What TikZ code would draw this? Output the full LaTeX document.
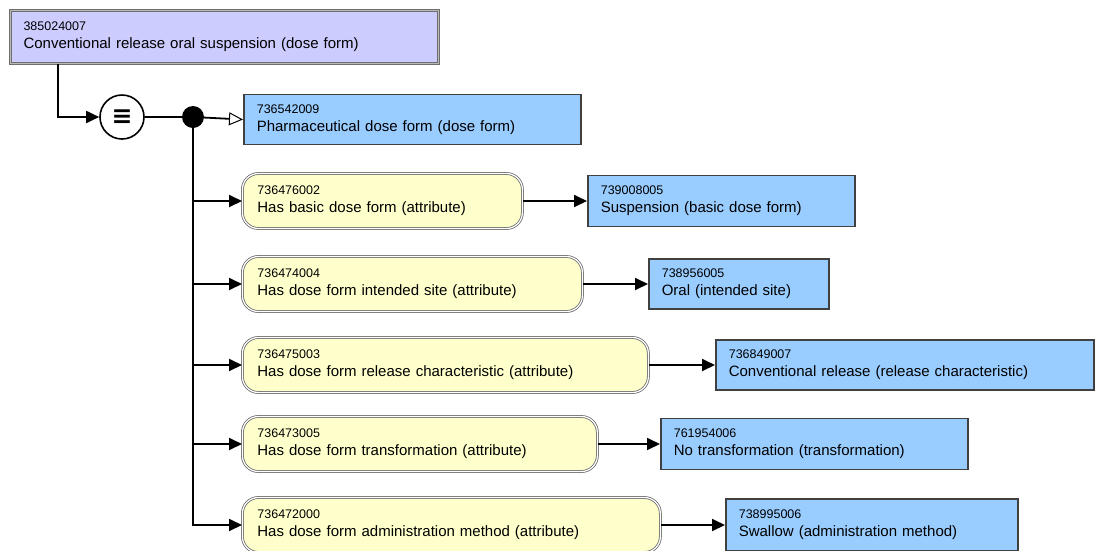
\documentclass[tikz,border=0pt]{standalone}
\usepackage{fontspec}
\setmainfont{Liberation Sans}
\newfontfamily\symfont{DejaVu Sans}
\usetikzlibrary{arrows.meta,positioning}

\definecolor{defcol}{RGB}{204,204,255}
\definecolor{attrcol}{RGB}{255,255,204}
\definecolor{valcol}{RGB}{153,204,255}
\definecolor{edgegray}{RGB}{110,110,110}
\newcommand\sctid[1]{{\fontsize{12.5}{14}\selectfont #1}}

\begin{document}
\begin{tikzpicture}[x=1pt,y=-1pt,
  txt/.style={align=left,anchor=west,inner xsep=13pt,inner ysep=3pt,
    font=\fontsize{15}{18}\selectfont},
  defbox/.style={txt,fill=defcol,draw=edgegray,line width=1pt,
    double=gray!55,double distance=1pt},
  attr/.style={txt,fill=attrcol,draw=edgegray,line width=0.8pt,
    double=white,double distance=1.2pt,rounded corners=16pt,inner xsep=15pt},
  val/.style={txt,fill=valcol,draw=black!75,line width=1.6pt},
  arr/.style={line width=1.8pt,-{Triangle[width=12pt,length=13pt]}},
  isa/.style={line width=1.8pt,-{Triangle[open,width=13pt,length=14pt,line width=1pt]}}]
\useasboundingbox (0,0) rectangle (1096,550);

\node[defbox,text width=402,minimum height=53] (dose) at (10,36.5)
  {\sctid{385024007}\\Conventional release oral suspension (dose form)};
\node[circle,draw,line width=1.6pt,minimum size=44,inner sep=0pt,fill=white] (equiv) at (122,117)
  {\symfont\bfseries\fontsize{25}{25}\selectfont ≡};
\node[circle,fill=black,minimum size=22,inner sep=0pt] (junc) at (193,117) {};
\node[val,text width=311,minimum height=50] (pharm) at (243,119.5)
  {\sctid{736542009}\\Pharmaceutical dose form (dose form)};

% attributes
\node[attr,text width=250,minimum height=55] (basic) at (242,201)
  {\sctid{736476002}\\Has basic dose form (attribute)};
\node[attr,text width=310,minimum height=55] (site) at (242,284)
  {\sctid{736474004}\\Has dose form intended site (attribute)};
\node[attr,text width=376,minimum height=55] (relchar) at (242,365)
  {\sctid{736475003}\\Has dose form release characteristic (attribute)};
\node[attr,text width=325,minimum height=55] (transf) at (242,444)
  {\sctid{736473005}\\Has dose form transformation (attribute)};
\node[attr,text width=388,minimum height=55] (admin) at (242,525)
  {\sctid{736472000}\\Has dose form administration method (attribute)};

% values
\node[val,text width=241,minimum height=51] (susp) at (587,201)
  {\sctid{739008005}\\Suspension (basic dose form)};
\node[val,text width=154,minimum height=50] (oral) at (648,284)
  {\sctid{738956005}\\Oral (intended site)};
\node[val,text width=352,minimum height=50] (conv) at (715,365)
  {\sctid{736849007}\\Conventional release (release characteristic)};
\node[val,text width=281,minimum height=51] (notr) at (660,444)
  {\sctid{761954006}\\No transformation (transformation)};
\node[val,text width=266,minimum height=52] (swallow) at (725,525)
  {\sctid{738995006}\\Swallow (administration method)};

\draw[arr] ([xshift=48]dose.south west) |- (equiv.west);
\draw[line width=1.8pt] (equiv.east) -- (junc);
\draw[isa] (junc) -- (pharm.west);
\foreach \a in {basic,site,relchar,transf,admin}
  \draw[arr] (junc) |- (\a.west);
\draw[arr] (basic.east) -- (susp.west);
\draw[arr] (site.east) -- (oral.west);
\draw[arr] (relchar.east) -- (conv.west);
\draw[arr] (transf.east) -- (notr.west);
\draw[arr] (admin.east) -- (swallow.west);
\end{tikzpicture}
\end{document}
